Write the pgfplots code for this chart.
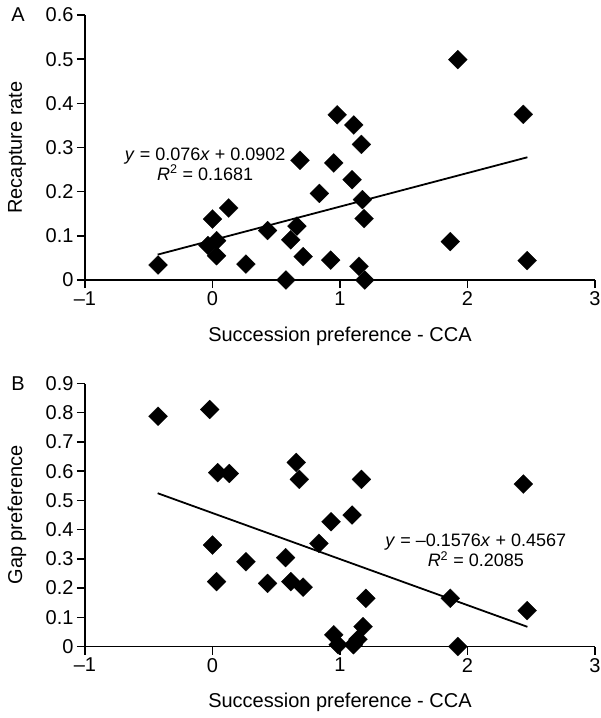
\documentclass[border=0pt]{standalone}
\usepackage{pgfplots}
\pgfplotsset{compat=1.18}
\usepackage{fontspec}
\setmainfont{Liberation Sans}

\pgfplotsset{
  myax/.style={
    scale only axis, width=510pt,
    axis x line=bottom, axis y line=left,
    axis line style={-, line width=1.5pt, black},
    xmin=-1, xmax=3, xtick={-1,0,1,2,3}, xticklabels={–1,0,1,2,3},
    tick align=outside, major tick length=8pt,
    every tick/.style={black, line width=1.5pt},
    tick label style={font=\fontsize{20}{24}\selectfont},
    xlabel={Succession preference - CCA},
    every axis x label/.style={at={(axis description cs:0.5,0)}, yshift=-56pt, anchor=center, font=\fontsize{20}{24}\selectfont},
    every axis y label/.style={at={(axis description cs:0,0.5)}, xshift=-68pt, rotate=90, anchor=center, font=\fontsize{20}{24}\selectfont},
    clip=false,
  },
  pts/.style={only marks, mark=square*, mark size=6.7pt, mark options={rotate=45, fill=black, draw=black, line width=0.2pt}},
  fit/.style={no marks, black, line width=1.8pt},
}

\begin{document}
\begin{tikzpicture}
\useasboundingbox (0pt,0pt) rectangle (601pt,-718pt);

\begin{axis}[myax,
  at={(85pt,-280pt)}, anchor=south west, height=265pt,
  ymin=0, ymax=0.6,
  ytick={0,0.1,0.2,0.3,0.4,0.5,0.6},
  yticklabels={0,0.1,0.2,0.3,0.4,0.5,0.6},
  ylabel={Recapture rate}]
\addplot[pts] coordinates {
(-0.427,0.034) (0.0,0.138) (0.127,0.163) (-0.035,0.078) (0.032,0.089)
(0.032,0.055) (0.262,0.036) (0.432,0.112) (0.576,0.0) (0.614,0.091)
(0.662,0.122) (0.686,0.271) (0.711,0.053) (0.838,0.196) (0.927,0.045)
(0.951,0.265) (0.978,0.374) (1.095,0.227) (1.108,0.351) (1.149,0.031)
(1.168,0.307) (1.176,0.182) (1.189,0.139) (1.195,0.0) (1.865,0.087)
(1.924,0.499) (2.438,0.375) (2.468,0.044)
};
\addplot[fit] coordinates {(-0.43,0.0575) (2.47,0.2779)};
\node[align=center, font=\fontsize{18}{20}\selectfont] at (axis cs:-0.057,0.263)
  {\textit{y} = 0.076\textit{x} + 0.0902\\\textit{R}\textsuperscript{2} = 0.1681};
\end{axis}

\begin{axis}[myax,
  at={(85pt,-646.5pt)}, anchor=south west, height=263pt,
  ymin=0, ymax=0.9,
  ytick={0,0.1,0.2,0.3,0.4,0.5,0.6,0.7,0.8,0.9},
  yticklabels={0,0.1,0.2,0.3,0.4,0.5,0.6,0.7,0.8,0.9},
  ylabel={Gap preference}]
\addplot[pts] coordinates {
(-0.427,0.788) (-0.022,0.811) (0.041,0.595) (0.132,0.592) (0.0,0.347)
(0.032,0.222) (0.262,0.290) (0.432,0.216) (0.573,0.304) (0.614,0.222)
(0.711,0.203) (0.657,0.630) (0.681,0.572) (0.835,0.353) (0.930,0.427)
(1.095,0.450) (1.168,0.572) (1.203,0.165) (0.951,0.040) (0.986,0.006)
(1.105,0.006) (1.181,0.068) (1.141,0.025) (1.865,0.165) (1.924,0.0)
(2.438,0.556) (2.468,0.123)
};
\addplot[fit] coordinates {(-0.43,0.5245) (2.47,0.0674)};
\node[align=center, font=\fontsize{18}{20}\selectfont] at (axis cs:2.065,0.330)
  {\textit{y} = –0.1576\textit{x} + 0.4567\\\textit{R}\textsuperscript{2} = 0.2085};
\end{axis}

\node[font=\fontsize{20}{24}\selectfont] at (18pt,-15pt) {A};
\node[font=\fontsize{20}{24}\selectfont] at (18pt,-384pt) {B};
\end{tikzpicture}
\end{document}
